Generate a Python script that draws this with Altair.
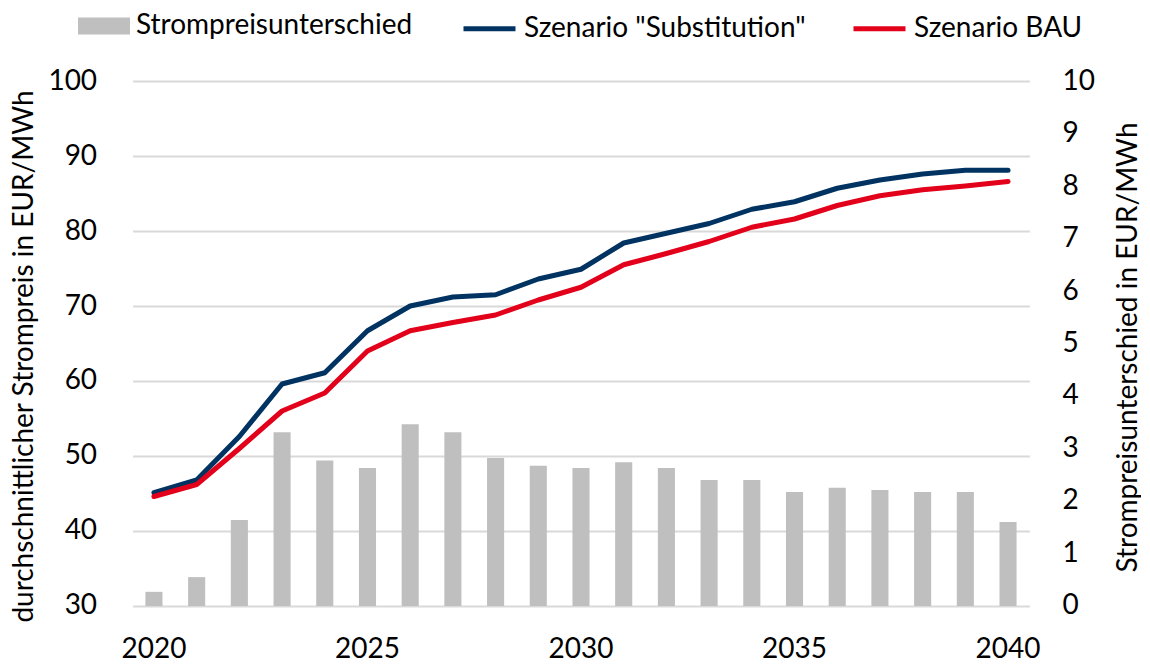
import altair as alt
import pandas as pd

years = list(range(2020, 2041))
diff = [0.27, 0.55, 1.64, 3.31, 2.77, 2.63, 3.46, 3.31, 2.82, 2.67, 2.63,
        2.74, 2.63, 2.40, 2.40, 2.17, 2.25, 2.21, 2.17, 2.17, 1.60]
subst = [45.1, 46.8, 52.6, 59.6, 61.1, 66.7, 70.0, 71.2, 71.5, 73.6, 74.9,
         78.4, 79.7, 81.0, 82.9, 83.9, 85.7, 86.8, 87.6, 88.1, 88.1]
bau = [44.6, 46.2, 51.0, 56.0, 58.4, 64.0, 66.7, 67.8, 68.8, 70.8, 72.5,
       75.5, 77.0, 78.6, 80.5, 81.6, 83.4, 84.7, 85.5, 86.0, 86.6]

bar_name = "Strompreisunterschied"
line_names = ['Szenario "Substitution"', "Szenario BAU"]
bar_color = "#BFBFBF"
line_colors = ["#003361", "#E2001A"]
x_ticks = [2020, 2025, 2030, 2035, 2040]
left_ticks = [30, 40, 50, 60, 70, 80, 90, 100]
right_ticks = list(range(0, 11))

bars_df = pd.DataFrame({"year": years, "value": diff, "series": bar_name})
lines_df = pd.concat([
    pd.DataFrame({"year": years, "value": subst, "series": line_names[0]}),
    pd.DataFrame({"year": years, "value": bau, "series": line_names[1]}),
])

FONT = "Lato"
FS = 28

common_legend = dict(
    orient="none", legendY=-81, direction="horizontal", title=None,
    labelFont=FONT, labelFontSize=FS, labelColor="black", symbolSize=2704,
    labelOffset=6, padding=0, labelLimit=0,
)

bar_legend = alt.Legend(legendX=-54.6, symbolType="M-1,-0.33H1V0.33H-1Z",
                        symbolStrokeWidth=0, symbolOpacity=1, columnPadding=44,
                        **common_legend)
line_legend = alt.Legend(legendX=328.4, symbolType="M-1,0H1",
                         symbolStrokeWidth=5, symbolOpacity=1, columnPadding=37,
                         **common_legend)

x_enc = alt.X(
    "year:O",
    scale=alt.Scale(paddingInner=0.6, paddingOuter=0.3),
    axis=alt.Axis(values=x_ticks, title=None, labelAngle=0, ticks=False, domain=False,
                  grid=False, labelFont=FONT, labelFontSize=FS,
                  labelColor="black", labelPadding=30),
)

bars = alt.Chart(bars_df).mark_bar().encode(
    x=x_enc,
    y=alt.Y("value:Q", scale=alt.Scale(domain=[0, 10], nice=False),
            axis=alt.Axis(orient="right", values=right_ticks, grid=False, ticks=False,
                          domain=False, domainColor="white",
                          title="Strompreisunterschied in EUR/MWh",
                          titleAngle=270, titleX=107.6, titleY=266,
                          titleBaseline="alphabetic", titleFont=FONT, titleFontSize=FS,
                          titleFontWeight="normal", titleColor="black",
                          labelFont=FONT, labelFontSize=FS, labelColor="black",
                          labelPadding=32.6)),
    color=alt.Color("series:N", scale=alt.Scale(domain=[bar_name], range=[bar_color]),
                    legend=bar_legend),
)

lines = alt.Chart(lines_df).mark_line(strokeWidth=5, strokeCap="round", strokeJoin="round").encode(
    x=x_enc,
    y=alt.Y("value:Q", scale=alt.Scale(domain=[30, 100], nice=False),
            axis=alt.Axis(orient="left", values=left_ticks, grid=True, gridColor="#D9D9D9",
                          gridWidth=2, ticks=False, domain=False, domainColor="white",
                          title="durchschnittlicher Strompreis in EUR/MWh",
                          titleAngle=270, titleX=-99.6, titleY=275,
                          titleBaseline="alphabetic", titleFont=FONT, titleFontSize=FS,
                          titleFontWeight="normal", titleColor="black",
                          labelFont=FONT, labelFontSize=FS, labelColor="black",
                          labelPadding=36)),
    stroke=alt.Stroke("series:N", scale=alt.Scale(domain=line_names, range=line_colors),
                      legend=line_legend),
)

chart = alt.layer(bars, lines).resolve_scale(y="independent").properties(
    width=896.8, height=525,
    background="white",
    autosize=alt.AutoSizeParams(type="none"),
    padding={"left": 124.6, "top": 73, "right": 112, "bottom": 60},
).configure_view(stroke="white").configure_axis(grid=False)

chart.save("out.html", embed_options={"renderer": "svg", "actions": False})
